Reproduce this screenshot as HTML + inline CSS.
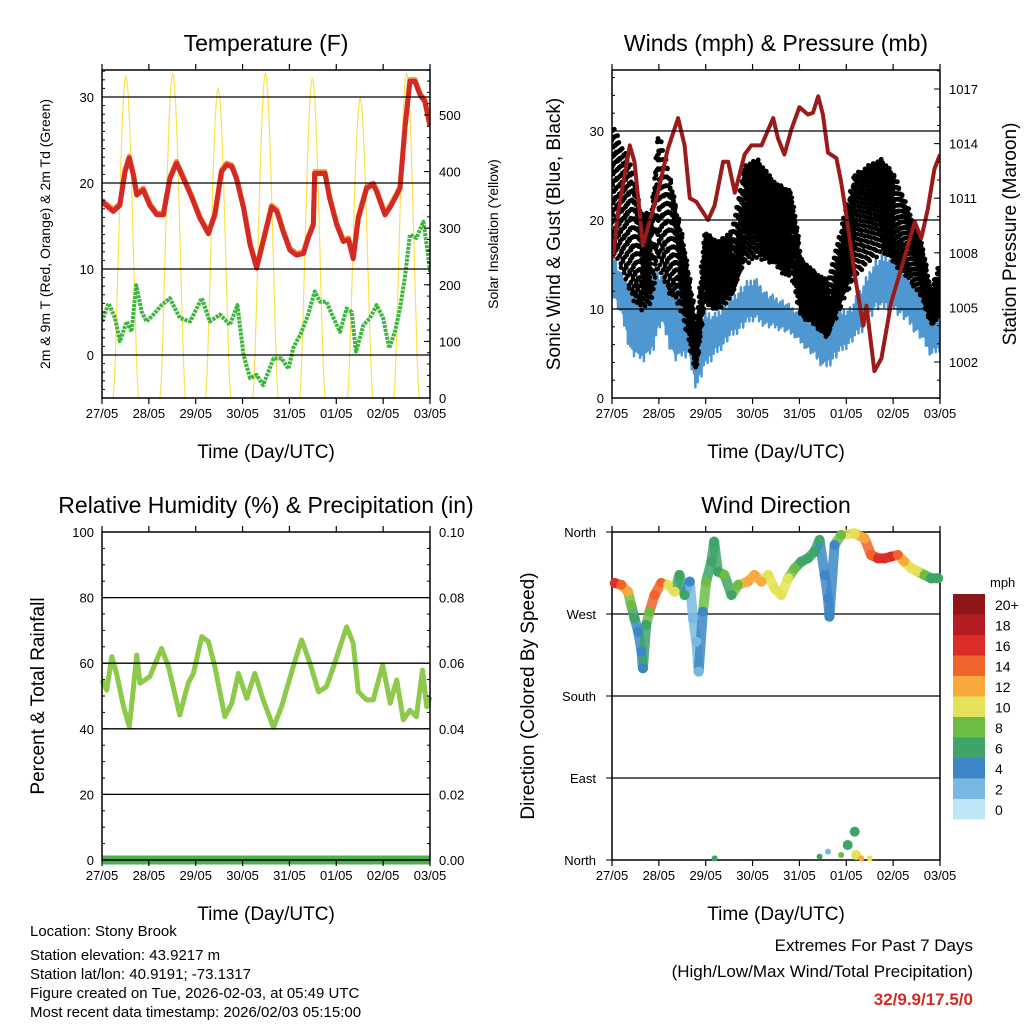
<!DOCTYPE html>
<html><head><meta charset="utf-8"><style>
body{margin:0;background:#fff}
svg{display:block;font-family:"Liberation Sans",sans-serif}
</style></head><body>
<svg id="svg" width="1024" height="1024" viewBox="0 0 1024 1024">
<rect width="1024" height="1024" fill="#fff"/>
<g id="g1"></g>
<g id="g2"></g>
<g id="g3"></g>
<g id="g4"></g>
<g font-size="15" fill="#000">
<text x="30" y="936">Location: Stony Brook</text>
<text x="30" y="960">Station elevation: 43.9217 m</text>
<text x="30" y="979">Station lat/lon: 40.9191; -73.1317</text>
<text x="30" y="998">Figure created on Tue, 2026-02-03, at 05:49 UTC</text>
<text x="30" y="1017">Most recent data timestamp: 2026/02/03 05:15:00</text>
</g>
<g font-size="17" text-anchor="end">
<text x="973" y="951">Extremes For Past 7 Days</text>
<text x="973" y="977">(High/Low/Max Wind/Total Precipitation)</text>
<text x="973" y="1005" fill="#d42a23" font-weight="bold">32/9.9/17.5/0</text>
</g>
</svg>
<script>
const days=["27/05","28/05","29/05","30/05","31/05","01/05","02/05","03/05"];
// Temperature
const tDay=[0,0.24,0.38,0.49,0.58,0.67,0.74,0.88,1.02,1.17,1.31,1.45,1.59,1.74,1.91,2.09,2.27,2.41,2.55,2.66,2.77,2.87,3.02,3.16,3.30,3.44,3.62,3.73,3.87,4.01,4.15,4.30,4.40,4.51,4.54,4.76,4.86,5.01,5.15,5.26,5.36,5.47,5.65,5.79,5.86,6.04,6.15,6.29,6.36,6.47,6.57,6.68,6.79,6.89,7.0];
const tVal=[17.8,16.7,17.4,21.3,22.9,20.9,18.6,19.2,17.4,16.3,16.3,20.5,22.3,20.5,18.4,15.9,14.1,16.3,21.3,22.1,21.9,20.5,17.1,12.8,10.1,13.2,17.2,16.7,14.3,12.2,11.6,11.8,13.6,15.1,21.1,21.1,18.2,15.1,13.2,13.4,11.2,15.9,19.4,19.8,19.0,16.3,17.2,18.6,19.4,26.7,31.8,31.8,30.2,29.5,26.6];
const tdDay=[0,0.14,0.28,0.38,0.53,0.63,0.73,0.85,0.95,1.10,1.27,1.45,1.66,1.88,2.13,2.30,2.52,2.73,2.89,3.02,3.16,3.30,3.44,3.66,3.83,3.98,4.08,4.26,4.40,4.54,4.65,4.79,4.94,5.08,5.22,5.33,5.42,5.58,5.72,5.86,6.00,6.13,6.25,6.36,6.47,6.57,6.71,6.86,6.96,7.0];
const tdVal=[3.9,6.0,4.3,1.6,3.9,2.7,8.1,5.0,3.9,4.7,5.8,6.6,4.3,3.9,6.6,3.9,4.7,3.5,5.8,0,-2.7,-2.3,-3.5,-0.4,-0.4,-1.6,0.8,2.7,4.7,7.4,6.2,6.2,4.3,2.7,5.4,5.0,0.4,3.5,4.3,5.8,4.3,0.8,2.7,5.4,9.3,14.0,13.6,15.5,11.6,9.7];
const solarPeakDay=[0.51,1.51,2.48,3.49,4.49,5.51,6.50];
const solarPeak=[568,574,547,574,565,530,574];
// Winds
const pDay=[0.02,0.13,0.38,0.48,0.66,0.80,0.98,1.19,1.41,1.55,1.66,1.80,2.05,2.19,2.37,2.48,2.62,2.83,2.97,3.19,3.44,3.54,3.68,3.83,4.00,4.18,4.29,4.40,4.50,4.61,4.79,4.89,5.00,5.18,5.36,5.43,5.60,5.75,5.96,6.17,6.46,6.60,6.74,6.88,7.0];
const pVal=[1007.7,1010.2,1013.9,1013.0,1008.4,1009.7,1011.3,1013.7,1015.4,1013.9,1011.0,1010.8,1009.8,1010.6,1013.0,1013.0,1011.3,1013.4,1013.9,1013.9,1015.4,1014.3,1013.4,1014.8,1016.0,1015.6,1015.7,1016.6,1015.6,1013.5,1013.2,1011.9,1010.1,1006.8,1004.0,1005.1,1001.5,1002.2,1005.3,1007.1,1009.7,1008.8,1010.4,1012.6,1013.4];
const wDay=[0.02,0.20,0.41,0.63,0.84,1.05,1.34,1.62,1.80,1.98,2.19,2.48,2.76,3.04,3.33,3.61,3.90,4.18,4.54,4.82,5.11,5.39,5.60,5.82,6.03,6.32,6.60,6.81,7.0];
const sonicHi=[16.4,14.2,13.4,11.9,14.9,14.2,13.1,10.4,7.5,10.1,9.7,11.2,12.7,13.8,11.9,11.2,10.1,9.0,9.0,10.1,10.4,13.4,15.7,16.4,16.1,14.2,11.9,9.0,9.7];
const sonicLo=[11.2,9.0,4.5,3.7,4.5,8.2,3.7,4.5,0.7,3.0,4.5,6.3,7.5,8.6,7.8,7.5,6.7,5.2,3.0,4.5,6.0,7.5,9.7,9.7,9.7,8.2,6.3,4.5,5.2];
const gDay=[0.02,0.20,0.41,0.63,0.84,0.98,1.19,1.41,1.62,1.80,1.98,2.26,2.55,2.83,3.12,3.47,3.83,4.04,4.32,4.61,4.89,5.18,5.46,5.75,6.03,6.32,6.60,6.81,7.0];
const gustHi=[30.7,28.4,26.2,20.6,20.9,29.9,26.2,20.6,14.9,8.2,18.7,17.6,18.7,26.2,26.9,24.3,23.2,15.7,14.2,13.1,19.1,25.1,26.2,26.9,25.1,21.3,17.6,11.9,15.3];
const gustLo=[16.4,14.2,11.2,9.7,10.4,14.2,11.9,10.4,6.7,2.6,10.4,9.7,11.2,14.9,15.7,14.9,13.1,9.0,8.2,6.7,10.4,13.4,14.9,16.4,14.9,13.4,11.2,8.2,9.0];
// Humidity
const rhDay=[0,0.10,0.21,0.31,0.46,0.58,0.63,0.74,0.81,1.02,1.27,1.42,1.66,1.84,1.95,2.13,2.27,2.41,2.62,2.77,2.91,3.09,3.26,3.44,3.66,3.83,4.08,4.26,4.44,4.62,4.79,4.94,5.22,5.36,5.47,5.65,5.79,5.99,6.15,6.29,6.43,6.57,6.71,6.84,6.93,7.0];
const rhVal=[54.9,51.8,62.0,56.9,46.7,40.7,46.7,62.5,53.9,55.9,64.5,58.9,44.2,53.9,56.9,68.1,66.6,58.9,43.7,47.8,56.9,49.3,56.9,48.8,40.4,46.7,58.9,67.1,60.0,51.3,52.8,58.9,71.1,66.1,51.3,48.8,48.8,59.5,47.8,54.9,42.7,45.7,43.7,57.9,46.7,49.8];
const precipDay=[0,7];
const precipVal=[0,0];
// Direction
const dirDay=[0.06,0.20,0.34,0.41,0.48,0.56,0.63,0.66,0.73,0.80,0.91,1.05,1.20,1.34,1.44,1.55,1.66,1.73,1.80,1.85,1.94,2.01,2.12,2.18,2.26,2.40,2.55,2.69,2.90,3.04,3.19,3.33,3.47,3.61,3.76,3.90,4.04,4.18,4.32,4.43,4.54,4.61,4.64,4.75,4.89,5.18,5.39,5.53,5.68,5.82,5.96,6.10,6.24,6.39,6.53,6.67,6.81,6.96];
const dirVal=[304.0,301.9,294.5,279.9,265.3,250.6,228.7,210.4,258.0,272.6,290.9,304.0,301.9,294.5,312.8,290.9,305.5,265.3,239.6,206.8,272.6,305.5,327.5,349.4,316.5,312.8,290.9,301.9,305.5,312.8,305.5,312.8,298.2,290.9,309.2,320.1,327.5,331.1,338.4,351.2,312.8,287.2,267.1,345.8,356.7,358.5,353.0,334.8,331.1,331.1,333.0,334.8,327.5,320.1,316.5,312.8,309.2,309.2];
const dirSpd=[16,14,12,8,6,5,4,4,6,8,14,14,11,10,7,6,5,3,2,2,4,8,7,6,6,8,7,8,12,13,12,10,11,10,11,9,7,7,6,6,5,4,4,5,8,10,13,15,17,16,16,15,12,11,10,8,6,6];
const northDay=[2.19,4.43,4.61,4.89,5.03,5.18,5.21,5.32,5.50];
const northVal=[1.8,3.7,9.2,5.5,16.5,31.1,5.5,1.8,1.8];
const northSpd=[6,6,3,8,7,6,10,12,11];
const cbLabels=["0","2","4","6","8","10","12","14","16","18","20+"];
const cbColors=["#bde6f7","#7ab8e4","#3d87c6","#3ea468","#6dbd45","#e5e25a","#f8a93e","#f0632a","#db2d27","#b51d24","#8c1618"];

const NS="http://www.w3.org/2000/svg";
function mk(par,tag,attrs,txt){const e=document.createElementNS(NS,tag);for(const k in attrs)e.setAttribute(k,attrs[k]);if(txt!==undefined)e.textContent=txt;par.appendChild(e);return e;}
function scale(d0,d1,r0,r1){return v=>r0+(v-d0)*(r1-r0)/(d1-d0);}
function interp(D,V,d){if(d<=D[0])return V[0];for(let i=1;i<D.length;i++){if(d<=D[i]){const f=(d-D[i-1])/(D[i]-D[i-1]);return V[i-1]+f*(V[i]-V[i-1]);}}return V[V.length-1];}
function frac(x){return x-Math.floor(x);}

function frame(g,x0,y0,w,h,title,ytitle,leftTicks,ly,rightTicks,ry,rtitle,minorL,minorR){
  const t=mk(g,'text',{x:x0+w/2,y:y0-19,'font-size':23,'text-anchor':'middle'},title);
  
  leftTicks.forEach(v=>{const y=ly(v);if(y>y0+1&&y<y0+h-1){const l=mk(g,'line',{x1:x0,x2:x0+w,y1:y,y2:y,stroke:'#000','stroke-width':1.3});}});
  const r=mk(g,'rect',{x:x0,y:y0,width:w,height:h,fill:'none',stroke:'#000','stroke-width':1.5});
  
  const xs=scale(0,7,x0,x0+w);
  days.forEach((d,i)=>{const x=xs(i);
    mk(g,'line',{x1:x,x2:x,y1:y0+h,y2:y0+h+6,stroke:'#000','stroke-width':1.2});
    mk(g,'line',{x1:x,x2:x,y1:y0,y2:y0-6,stroke:'#000','stroke-width':1.2});
    const tl=mk(g,'text',{x:x,y:y0+h+20,'font-size':13,'text-anchor':'middle'},d);
    });
  const xt=mk(g,'text',{x:x0+w/2,y:y0+h+60,'font-size':19,'text-anchor':'middle'},'Time (Day/UTC)');
  
  leftTicks.forEach(v=>{const y=ly(v);mk(g,'line',{x1:x0,x2:x0+6,y1:y,y2:y,stroke:'#000'});
    const tl=mk(g,'text',{x:x0-8,y:y+5,'font-size':13,'text-anchor':'end'},String(v));
    });
  if(minorL)minorL.forEach(v=>{const y=ly(v);mk(g,'line',{x1:x0,x2:x0+3,y1:y,y2:y,stroke:'#000'});});
  const yt=mk(g,'text',{transform:`translate(${x0-ytitle[1]},${y0+h/2}) rotate(-90)`,'font-size':ytitle[2],'text-anchor':'middle'},ytitle[0]);
  
  if(rightTicks){rightTicks.forEach(v=>{const y=ry(v);mk(g,'line',{x1:x0+w,x2:x0+w-6,y1:y,y2:y,stroke:'#000'});
    const tl=mk(g,'text',{x:x0+w+9,y:y+5,'font-size':13},rightTicks.fmt?rightTicks.fmt(v):String(v));
    });
   if(minorR)minorR.forEach(v=>{const y=ry(v);mk(g,'line',{x1:x0+w,x2:x0+w-3,y1:y,y2:y,stroke:'#000'});});
   const rt=mk(g,'text',{transform:`translate(${x0+w+rtitle[1]},${y0+h/2}) rotate(-90)`,'font-size':rtitle[2],'text-anchor':'middle'},rtitle[0]);
   }
  return xs;
}
function path(xs,ys,X,Y){return xs.map((d,i)=>(i?'L':'M')+X(d).toFixed(1)+','+Y(ys[i]).toFixed(1)).join('');}

// Panel 1
(function(){const g=document.getElementById('g1');
const ly=scale(0,30,355,97), ry=scale(0,500,398,115);
const minor=[];for(let v=-4;v<=33;v++)minor.push(v);
const rmin=[];for(let v=0;v<=580;v+=20)rmin.push(v);
const cp=mk(g,'clipPath',{id:'c1'});mk(cp,'rect',{x:102,y:70,width:328,height:328});
const xs=scale(0,7,102,430);
const sg=mk(g,'g',{'clip-path':'url(#c1)'});
solarPeakDay.forEach((d,i)=>{let p='';for(let k=0;k<=24;k++){const f=k/24;const dd=d-0.27+0.54*f;const v=solarPeak[i]*Math.pow(Math.sin(Math.PI*f),1.5);p+=(k?'L':'M')+xs(dd).toFixed(1)+','+ry(v).toFixed(1);}
 const e=mk(sg,'path',{d:p,fill:'none',stroke:'#fde04a','stroke-width':1.2});
 });
const o=mk(sg,'path',{d:path(tDay,tVal.map(v=>v+0.2),xs,ly),fill:'none',stroke:'#f08a3c','stroke-width':5,'stroke-linejoin':'round'});

const r=mk(sg,'path',{d:path(tDay,tVal,xs,ly),fill:'none',stroke:'#d42a23','stroke-width':5,'stroke-linejoin':'round'});

const gr=mk(sg,'path',{d:path(tdDay,tdVal,xs,ly),fill:'none',stroke:'#3db63d','stroke-width':4,'stroke-linejoin':'round','stroke-dasharray':'3 1'});

const rt=[0,100,200,300,400,500];
frame(g,102,70,328,328,'Temperature (F)',['2m & 9m T (Red, Orange) & 2m Td (Green)',52,14],[0,10,20,30],ly,rt,ry,['Solar Insolation (Yellow)',68,14],minor,rmin);
})();

// Panel 2
(function(){const g=document.getElementById('g2');
const ly=scale(0,30,398,131), ry=scale(1002,1017,362,89);
const xs=scale(0,7,612,940);
const cp=mk(g,'clipPath',{id:'c2'});mk(cp,'rect',{x:612,y:70,width:328,height:328});
const sg=mk(g,'g',{'clip-path':'url(#c2)'});
const band=(D,hi,lo)=>path(D,hi,xs,ly)+path(D.slice().reverse(),lo.slice().reverse(),xs,ly).replace('M','L')+'Z';
// sonic wind first (gusts overlap it)
let sp='';let m=0;
for(let d=0;d<=7;d+=0.01){const hi=interp(wDay,sonicHi,d),lo=interp(wDay,sonicLo,d);const f=frac(m++*0.618034);const v=lo+(hi-lo)*f;sp+=(sp?'L':'M')+xs(d).toFixed(1)+','+ly(v).toFixed(1);}
const bb=mk(sg,'path',{d:band(wDay,sonicHi.map(h=>h-1),sonicLo.map(l=>l+1)),fill:'#4f97d1',stroke:'none'});

const bl=mk(sg,'path',{d:sp,fill:'none',stroke:'#4f97d1','stroke-width':2.5,'stroke-linejoin':'round'});

// gust scatter: dots spread within the hi/lo envelope
const gdots=mk(sg,'g',{fill:'#000'});

let k=0;
for(let d=0;d<=7;d+=0.004){const hi=interp(gDay,gustHi,d),lo=interp(gDay,gustLo,d);
 for(let j=0;j<2;j++){k++;const f=frac(k*0.618034);const f2=Math.pow(f,0.85);const v=lo+(hi-lo)*f2;
  const c=mk(gdots,'circle',{cx:(xs(d)+(frac(k*0.41421)-0.5)*2).toFixed(1),cy:ly(v).toFixed(1),r:2.4});
  }}
const pl=mk(sg,'path',{d:path(pDay,pVal,xs,ry),fill:'none',stroke:'#9b1b1b','stroke-width':4,'stroke-linejoin':'round'});

const rt=[1002,1005,1008,1011,1014,1017];const rmin=[];for(let v=1000;v<=1018;v++)rmin.push(v);
const lmin=[];for(let v=0;v<=36;v+=2)lmin.push(v);
frame(g,612,70,328,328,'Winds (mph) & Pressure (mb)',['Sonic Wind & Gust (Blue, Black)',52,19],[0,10,20,30],ly,rt,ry,['Station Pressure (Maroon)',76,19],lmin,rmin);
})();

// Panel 3
(function(){const g=document.getElementById('g3');
const ly=scale(0,100,860,532), ry=scale(0,0.1,860,532);
const xs=scale(0,7,102,430);
const rl=mk(g,'path',{d:path(rhDay,rhVal,xs,ly),fill:'none',stroke:'#8dc94a','stroke-width':5,'stroke-linejoin':'round'});

const pr=mk(g,'path',{d:path(precipDay,precipVal,xs,ry),fill:'none',stroke:'#4caf50','stroke-width':9});

const rt=[0,0.02,0.04,0.06,0.08,0.1];rt.fmt=v=>v.toFixed(2);
const lmin=[];for(let v=0;v<=100;v+=5)lmin.push(v);const rmin=lmin.map(v=>v/1000);
frame(g,102,532,328,328,'Relative Humidity (%) & Precipitation (in)',['Percent & Total Rainfall',58,19],[0,20,40,60,80,100],ly,rt,ry,['',0,1],lmin,rmin);
})();

// Panel 4
(function(){const g=document.getElementById('g4');
const ly=scale(0,360,860,532);const xs=scale(0,7,612,940);
const col=s=>cbColors[Math.min(10,Math.max(0,Math.floor(s/2)))];
const ticks=[0,90,180,270,360], names=["North","East","South","West","North"];
frame(g,612,532,328,328,'Wind Direction',['Direction (Colored By Speed)',78,19],[],ly,null,null,null,null,null);
ticks.forEach((v,i)=>{const y=ly(v);
 if(i>0&&i<4){const l=mk(g,'line',{x1:612,x2:940,y1:y,y2:y,stroke:'#000','stroke-width':1.3});}
 mk(g,'line',{x1:612,x2:606,y1:y,y2:y,stroke:'#000'});
 const t=mk(g,'text',{x:596,y:y+5,'font-size':13,'text-anchor':'end'},names[i]);
 });
for(let i=1;i<dirDay.length;i++){
 const s=mk(g,'line',{x1:xs(dirDay[i-1]),y1:ly(dirVal[i-1]),x2:xs(dirDay[i]),y2:ly(dirVal[i]),stroke:col(dirSpd[i]),'stroke-width':10,'stroke-linecap':'round','stroke-opacity':0.85});
 }
dirDay.forEach((d,i)=>{const c=mk(g,'circle',{cx:xs(d),cy:ly(dirVal[i]),r:5,fill:col(dirSpd[i])});
 });
northDay.forEach((d,i)=>{const c=mk(g,'circle',{cx:xs(d),cy:ly(northVal[i]),r:i>=4&&i<=6?5:3,fill:col(northSpd[i])});
 });
const mph=mk(g,'text',{x:990,y:587,'font-size':13},'mph');
cbColors.forEach((c,i)=>{const y=594+(10-i)*20.5;
 const r=mk(g,'rect',{x:953,y:y,width:32,height:20.5,fill:c});
 const t=mk(g,'text',{x:995,y:y+16,'font-size':14},cbLabels[i]);});
})();
</script>
</body></html>
